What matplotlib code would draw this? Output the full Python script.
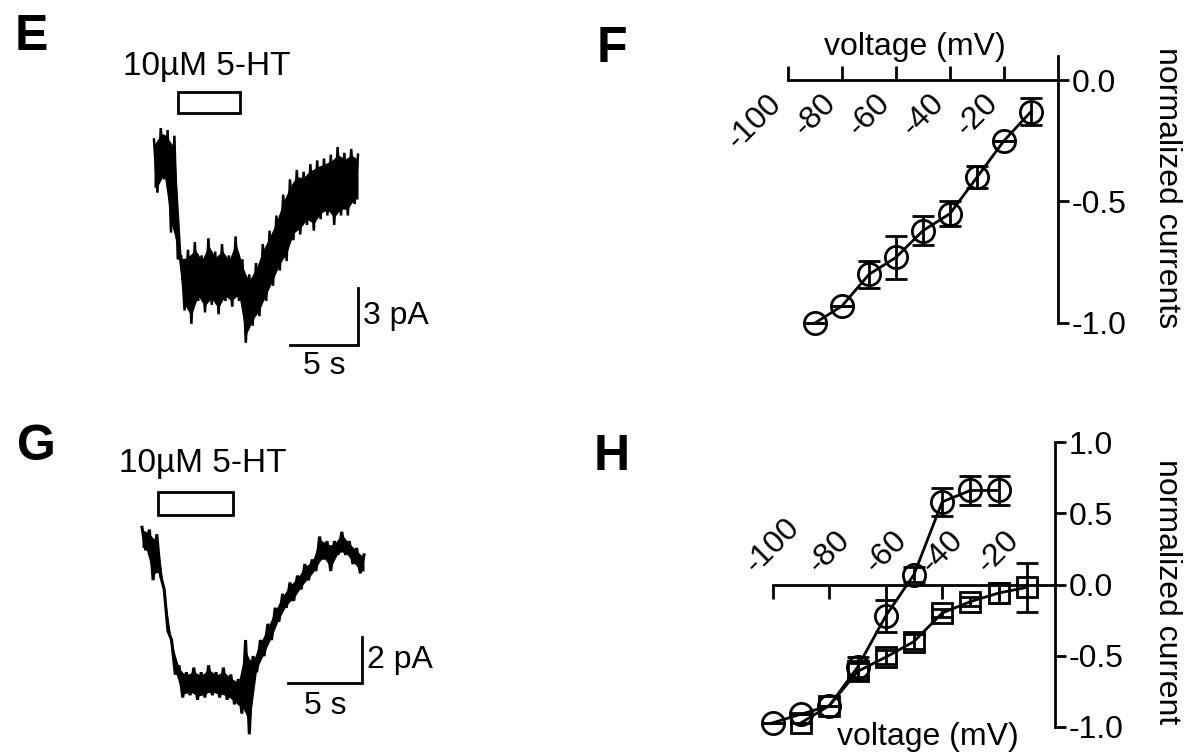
import numpy as np
import matplotlib
matplotlib.use('Agg')
import matplotlib.pyplot as plt
from matplotlib.patches import Rectangle
from matplotlib.ticker import FormatStrFormatter

plt.rcParams['font.family'] = ['Liberation Sans', 'DejaVu Sans']
plt.rcParams['axes.unicode_minus'] = False

# --- data ---
# traces: current (pA) sampled every 0.25 s, alternating upper / lower edge of the noise band
e_dt = 0.25
e_current = [-0.5, -3.3, 0.1, -2.6, 0.0, -5.4, -0.3, -6.8, -6.6, -9.5,
             -6.3, -10.2, -5.9, -9.0, -6.6, -9.6, -5.7, -9.2, -6.4, -9.7,
             -6.0, -9.0, -6.6, -9.3, -5.6, -9.0, -6.8, -11.2, -7.6, -10.3,
             -7.0, -9.8, -6.0, -9.0, -5.3, -8.2, -4.5, -7.4, -3.4, -6.9,
             -2.6, -5.8, -2.1, -5.5, -2.2, -5.0, -1.8, -5.3, -1.6, -4.7,
             -1.5, -4.5, -1.3, -5.0, -0.9, -4.5, -1.2, -4.5, -1.0, -3.9, -1.3]
e_stim = (1.75, 6.3)      # 5-HT application, s
e_scale = (5, 3)          # s, pA

g_dt = 0.25
g_current = [-0.1, -1.1, -0.2, -2.4, -0.4, -2.2, -2.8, -4.6, -5.0, -6.5,
             -6.1, -7.5, -6.4, -7.4, -6.2, -7.6, -6.4, -7.5, -6.1, -7.4,
             -6.4, -7.5, -6.2, -7.6, -6.5, -7.8, -6.7, -8.2, -5.0, -9.1,
             -5.7, -6.4, -5.0, -5.7, -4.3, -5.0, -3.6, -4.2, -3.0, -3.6,
             -2.5, -3.3, -2.2, -2.8, -1.7, -2.4, -1.5, -2.0, -0.5, -1.5,
             -0.7, -2.0, -0.7, -1.3, -0.3, -1.3, -0.7, -1.7, -1.0, -2.1, -1.3]
g_stim = (1.1, 6.15)
g_scale = (5, 2)

stim_label = '10µM 5-HT'

# F: normalized I-V
f_volt = [-90, -80, -70, -60, -50, -40, -30, -20, -10]
f_curr = [-1.0, -0.93, -0.80, -0.73, -0.62, -0.55, -0.40, -0.25, -0.13]
f_err = [0.0, 0.0, 0.055, 0.09, 0.06, 0.05, 0.045, 0.0, 0.055]

# H: two I-V relations
h_circ_volt = [-100, -90, -80, -70, -60, -50, -40, -30, -20]
h_circ_curr = [-0.97, -0.91, -0.85, -0.58, -0.22, 0.07, 0.58, 0.66, 0.66]
h_circ_err = [0.0, 0.0, 0.0, 0.07, 0.11, 0.05, 0.1, 0.1, 0.1]
h_sq_volt = [-90, -80, -70, -60, -50, -40, -30, -20, -10]
h_sq_curr = [-0.97, -0.85, -0.61, -0.51, -0.40, -0.20, -0.12, -0.06, -0.02]
h_sq_err = [0.0, 0.0, 0.06, 0.05, 0.05, 0.03, 0.03, 0.07, 0.17]

volt_ticks = [-100, -80, -60, -40, -20]

W, H = 1185, 755
fig = plt.figure(figsize=(W / 100, H / 100), dpi=100)

FS = 23


def px_axes(x0, y0, x1, y1):
    return fig.add_axes([x0 / W, 1 - y1 / H, (x1 - x0) / W, (y1 - y0) / H])


def trace_panel(box, origin, px_s, px_pa, dt, current, stim, scale, pos, lw, core):
    x0, y0, x1, y1 = box
    ox, oy = origin
    ax = px_axes(*box)
    ax.set_xlim((x0 - ox) / px_s, (x1 - ox) / px_s)
    ax.set_ylim(-(y1 - oy) / px_pa, -(y0 - oy) / px_pa)
    ax.axis('off')
    t = np.arange(len(current)) * dt
    cur = np.array(current)
    # solid core of the noise band, spikes of the raw zigzag stick out of it
    hi = np.interp(t, t[0::2], cur[0::2])
    lo = np.interp(t, t[1::2], cur[1::2])
    mid = (hi + lo) / 2
    half = (hi - lo) / 2 * core
    ax.fill_between(t, mid - half, mid + half, color='black', lw=0)
    ax.plot(t, cur, color='black', lw=lw, solid_joinstyle='miter')
    # drug bar + label
    sy0, sy1 = pos['stim_y']
    ax.add_patch(Rectangle((stim[0], sy0), stim[1] - stim[0], sy1 - sy0,
                           fill=False, ec='black', lw=2))
    ax.text(pos['text_x'], pos['text_y'], stim_label, fontsize=FS + 1,
            ha='center', va='baseline')
    # scale bar
    sx, sy = pos['corner']
    ax.plot([sx - scale[0], sx, sx], [sy, sy, sy + scale[1]], color='black', lw=2,
            solid_joinstyle='miter')
    ax.text(sx + 0.35, sy + scale[1] / 2, '%d pA' % scale[1], fontsize=FS,
            ha='left', va='center')
    ax.text(sx - scale[0] / 2, sy - 0.35, '%d s' % scale[0], fontsize=FS,
            ha='center', va='top')
    return ax


# E
trace_panel((100, 50, 450, 400), (154, 130), 13.6, 19.0, e_dt, e_current, e_stim, e_scale,
            {'stim_y': (0.89, 2.0), 'text_x': 3.9, 'text_y': 2.9, 'corner': (15.0, -11.3)},
            1.8, 0.8)
# G
trace_panel((100, 440, 460, 755), (142, 525), 14.8, 23.0, g_dt, g_current, g_stim, g_scale,
            {'stim_y': (0.43, 1.43), 'text_x': 4.1, 'text_y': 2.3, 'corner': (14.85, -6.87)},
            2.2, 0.75)


def style_iv(ax):
    for s in ax.spines.values():
        s.set_linewidth(2)
    ax.yaxis.set_major_formatter(FormatStrFormatter('%.1f'))
    ax.tick_params(axis='y', direction='out', length=8, width=2, labelsize=FS, pad=2)
    ax.tick_params(axis='x', length=10, width=2, labelsize=FS)
    ax.set_xlim(-100, 0)
    ax.set_xticks(volt_ticks)
    ax.yaxis.tick_right()
    ax.patch.set_alpha(0)


mk = dict(ms=16, mew=2, mfc='none', mec='black', color='black', lw=2,
          elinewidth=2, capsize=8, capthick=2, clip_on=False)

# F
axf = px_axes(788, 80 - 0.1 * 243, 1058, 323)
axf.errorbar(f_volt, f_curr, yerr=f_err, marker='o', **mk)
axf.set_ylim(-1.0, 0.1)
axf.set_yticks([0.0, -0.5, -1.0])
style_iv(axf)
axf.spines['top'].set_visible(False)
axf.spines['left'].set_visible(False)
axf.spines['bottom'].set_position(('data', 0))
axf.tick_params(axis='x', direction='in', pad=6)
for lab in axf.get_xticklabels():
    lab.set_rotation(45)
    lab.set_ha('right')
    lab.set_va('top')
axf.text(-53, 0.135, 'voltage (mV)', fontsize=FS, ha='center', va='center')

# H
axh = px_axes(773, 442, 1055, 727)
axh.errorbar(h_circ_volt, h_circ_curr, yerr=h_circ_err, marker='o', **mk)
axh.errorbar(h_sq_volt, h_sq_curr, yerr=h_sq_err, marker='s', **dict(mk, ms=15))
axh.set_ylim(-1.0, 1.0)
axh.set_yticks([1.0, 0.5, 0.0, -0.5, -1.0])
style_iv(axh)
axh.spines['bottom'].set_visible(False)
axh.spines['left'].set_visible(False)
axh.spines['top'].set_position(('data', 0))
axh.xaxis.tick_top()
axh.tick_params(axis='x', direction='in', pad=4)
for lab in axh.get_xticklabels():
    lab.set_rotation(45)
    lab.set_ha('center')
    lab.set_va('bottom')
axh.text(-45, -1.07, 'voltage (mV)', fontsize=FS, ha='center', va='center')

# right-side axis titles
fig.text(1167 / W, 1 - 188 / H, 'normalized currents', rotation=270, fontsize=FS,
         ha='center', va='center')
fig.text(1167 / W, 1 - 592 / H, 'normalized current', rotation=270, fontsize=FS,
         ha='center', va='center')

# panel letters
for letter, x, y in [('E', 15, 14), ('F', 597, 26), ('G', 17, 424), ('H', 594, 434)]:
    fig.text(x / W, 1 - y / H, letter, fontsize=36, fontweight='bold', ha='left', va='top')

fig.savefig('out.png', dpi=100)
